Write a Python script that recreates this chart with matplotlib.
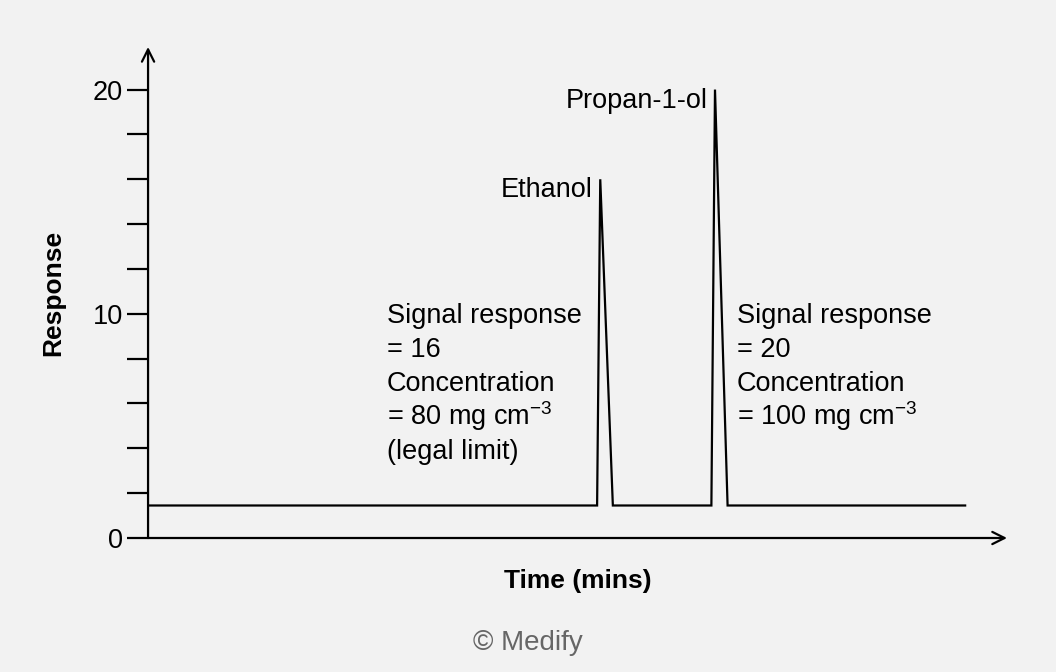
import matplotlib.pyplot as plt

plt.rcParams['font.family'] = ['Liberation Sans', 'DejaVu Sans']
plt.rcParams['mathtext.default'] = 'regular'

# chromatogram trace (time in arbitrary minutes, response)
time = [0.0, 9.98, 10.05, 10.33, 12.52, 12.6, 12.88, 18.16]
response = [1.45, 1.45, 16.0, 1.45, 1.45, 20.0, 1.45, 1.45]

peak_names = ['Ethanol', 'Propan-1-ol']
peak_time = [10.05, 12.6]
peak_height = [16, 20]

left_note = ['Signal response', '= 16', 'Concentration',
             '= 80 mg cm$^{-3}$', '(legal limit)']
right_note = ['Signal response', '= 20', 'Concentration',
              '= 100 mg cm$^{-3}$']

bg = '#f2f2f2'
fs = 19.5
fig = plt.figure(figsize=(10.56, 6.72), dpi=100, facecolor=bg)
ax = fig.add_axes([0.1402, 0.1994, 0.8134, 0.7307])
ax.set_facecolor(bg)

ax.plot(time, response, color='black', lw=1.6, solid_joinstyle='miter')

ax.set_xlim(0, 19.09)
ax.set_ylim(0, 21.9)
for s in ax.spines.values():
    s.set_visible(False)

# axes drawn as arrows
ax.annotate('', xy=(1.0, 0), xytext=(0, 0), xycoords='axes fraction',
            arrowprops=dict(arrowstyle='->', color='black', lw=1.6,
                            mutation_scale=22, shrinkA=0, shrinkB=0))
ax.annotate('', xy=(0, 1.0), xytext=(0, 0), xycoords='axes fraction',
            arrowprops=dict(arrowstyle='->', color='black', lw=1.6,
                            mutation_scale=22, shrinkA=0, shrinkB=0))

ax.set_xticks([])
ax.set_yticks([0, 10, 20])
ax.set_yticks(range(2, 20, 2), minor=True)
ax.tick_params(axis='y', which='both', length=15, width=1.6, color='black',
               labelsize=fs, pad=3)
ax.tick_params(axis='y', which='minor', labelleft=False)

ax.set_xlabel('Time (mins)', fontsize=19, fontweight='bold', labelpad=22)
ax.set_ylabel('Response', fontsize=19, fontweight='bold', labelpad=20)

for name, t, h in zip(peak_names, peak_time, peak_height):
    ax.text(t - 0.17, h - 0.5, name, fontsize=fs, ha='right', va='center')

step = 1.514
for i, line in enumerate(left_note):
    ax.text(5.31, 9.58 - i * step, line, fontsize=fs, ha='left', va='baseline')
for i, line in enumerate(right_note):
    ax.text(13.09, 9.58 - i * step, line, fontsize=fs, ha='left', va='baseline')

fig.text(0.5, 1 - 643 / 672, '© Medify', fontsize=20, color='#666666',
         ha='center', va='center')

fig.savefig('out.png', dpi=100, facecolor=bg)
